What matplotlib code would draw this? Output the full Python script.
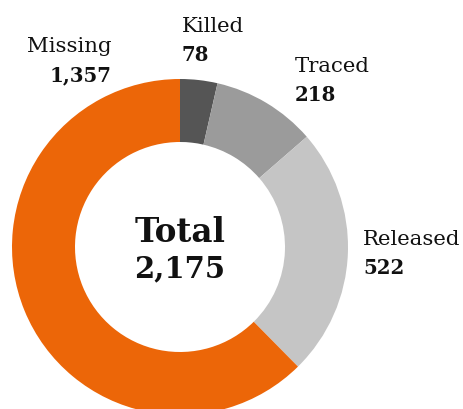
import matplotlib.pyplot as plt

# data
labels = ["Killed", "Traced", "Released", "Missing"]
values = [78, 218, 522, 1357]
colors = ["#555555", "#9b9b9b", "#c5c5c5", "#ec6608"]
total = sum(values)

plt.rcParams['font.family'] = ['DejaVu Serif']

fig = plt.figure(figsize=(4.64, 4.10), dpi=100)
ax = fig.add_axes([0, 0, 1, 1])

# donut, drawn clockwise from 12 o'clock (y axis is flipped below)
ax.pie(values, colors=colors, center=(180, 248), radius=168,
       startangle=-90, counterclock=True,
       wedgeprops=dict(width=63, linewidth=0))

ax.set_xlim(0, 464)
ax.set_ylim(410, 0)
ax.set_aspect('equal')
ax.axis('off')

# label positions (pixel coords: x, baseline of name, alignment)
label_pos = {
    "Killed": (182, 32, 'left'),
    "Traced": (295, 72, 'left'),
    "Released": (363, 245, 'left'),
    "Missing": (112, 52, 'right'),
}
for name, val in zip(labels, values):
    x, y, ha = label_pos[name]
    ax.text(x, y, name, ha=ha, va='baseline', fontsize=15.3, color='#111111')
    ax.text(x, y + 29, f"{val:,}", ha=ha, va='baseline', fontsize=14.2,
            fontweight='bold', color='#111111')

ax.text(180, 242, "Total", ha='center', va='baseline', fontsize=23.5,
        fontweight='bold', color='#111111')
ax.text(180, 277, f"{total:,}", ha='center', va='baseline', fontsize=21,
        fontweight='bold', color='#111111')

fig.savefig("out.png", dpi=100)
